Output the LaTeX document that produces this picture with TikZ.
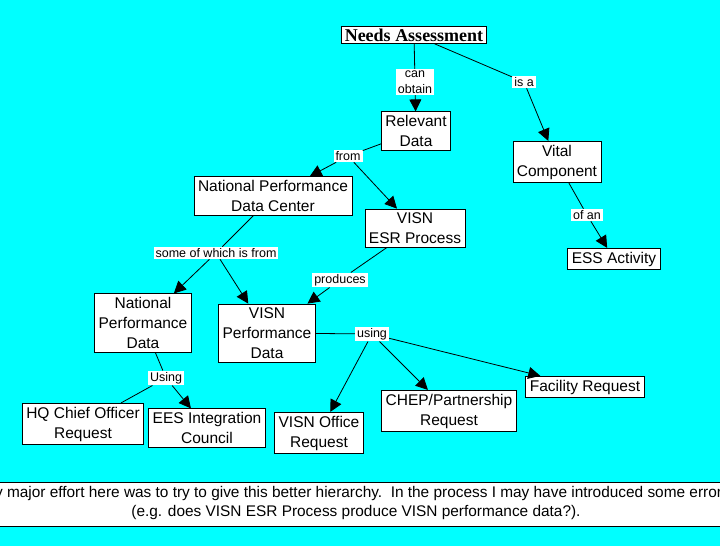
\documentclass[tikz,border=0pt]{standalone}
\usepackage{fontspec}
\setmainfont{Liberation Sans}
\newfontfamily\timesbf{Liberation Serif}
\usetikzlibrary{arrows.meta}
\definecolor{bgcyan}{RGB}{0,255,255}
\begin{document}
\begin{tikzpicture}[x=1pt,y=-1pt,
  concept/.style={draw=black,fill=white,line width=0.8pt,align=center,
    font=\fontsize{15.5}{20}\selectfont,inner xsep=4pt,inner ysep=3.5pt},
  lbl/.style={fill=white,align=center,font=\fontsize{12.5}{16}\selectfont,inner xsep=2pt,inner ysep=1.5pt},
  link/.style={line width=0.8pt},
  arr/.style={line width=0.8pt,-{Triangle[length=12pt,width=12pt]}}]
\useasboundingbox (0,0) rectangle (720,546);
\fill[bgcyan] (0,0) rectangle (720,546);
\begin{scope}
\clip (0,0) rectangle (720,546);
\node[concept,font=\timesbf\bfseries\fontsize{18}{20}\selectfont,inner ysep=2pt,inner xsep=3.5pt] (na) at (414,35) {Needs Assessment};
\node[lbl] (canobtain) at (415,82) {can\\obtain};
\node[lbl] (isa) at (524,82) {is a};
\node[concept] (rd) at (416,131) {Relevant\\Data};
\node[concept] (vc) at (557,162) {Vital\\Component};
\node[lbl] (ofan) at (587,215) {of an};
\node[concept] (ess) at (614,259) {ESS Activity};
\node[lbl] (from) at (348,156) {from};
\node[concept] (npdc) at (273,196) {National Performance\\Data Center};
\node[concept] (esr) at (415,228) {VISN\\ESR Process};
\node[lbl] (somefrom) at (216,253) {some of which is from};
\node[lbl] (produces) at (340,280) {produces};
\node[concept] (npd) at (143,323) {National\\Performance\\Data};
\node[concept] (vpd) at (267,333) {VISN\\Performance\\Data};
\node[lbl] (using) at (372,334) {using};
\node[lbl] (Using) at (166,378) {Using};
\node[concept] (hq) at (83,424) {HQ Chief Officer\\Request};
\node[concept] (ees) at (207,428) {EES Integration\\Council};
\node[concept] (vo) at (319,433) {VISN Office\\Request};
\node[concept] (chep) at (449,411) {CHEP/Partnership\\Request};
\node[concept] (fr) at (585,387) {Facility Request};

\draw[link] (na) -- (canobtain);
\draw[arr] (canobtain) -- (rd);
\draw[link] (na) -- (isa);
\draw[arr] (isa) -- (vc);
\draw[link] (vc) -- (ofan);
\draw[arr] (ofan) -- (ess);
\draw[link] (rd) -- (from);
\draw[arr] (from) -- (npdc);
\draw[arr] (from) -- (esr);
\draw[link] (npdc) -- (somefrom);
\draw[arr] (somefrom) -- (npd);
\draw[arr] (somefrom) -- (vpd);
\draw[link] (esr) -- (produces);
\draw[arr] (produces) -- (vpd);
\draw[link] (vpd) -- (using);
\draw[arr] (using) -- (vo);
\draw[arr] (using) -- (chep);
\draw[arr] (using) -- (fr);
\draw[link] (npd) -- (Using);
\draw[link] (Using) -- (hq);
\draw[arr] (Using) -- (ees);

\draw[fill=white,line width=0.8pt] (-5,482) rectangle (725,526);
\node[font=\fontsize{15.4}{19}\selectfont,align=center] (note) at (356,503)
  {My major effort here was to try to give this better hierarchy.\ \ In the process I may have introduced some errors\\
   (e.g. does VISN ESR Process produce VISN performance data?).};
\end{scope}
\end{tikzpicture}
\end{document}
